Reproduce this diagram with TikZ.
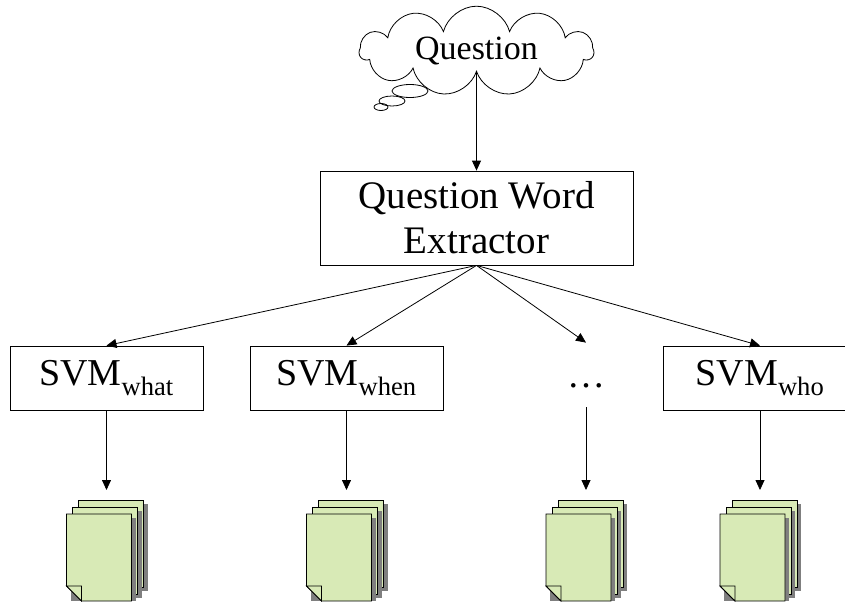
\documentclass[tikz,border=0pt]{standalone}
\usepackage{fontspec}
\setmainfont{Liberation Serif}
\usetikzlibrary{arrows.meta,shapes.symbols}

\definecolor{docgreen}{HTML}{D8EAB6}
\definecolor{docshadow}{HTML}{7F7F7F}

\tikzset{
	box/.style={draw, line width=0.8pt, inner sep=0pt, align=center},
	svmbox/.style={box, minimum width=193pt, minimum height=64pt, font=\fontsize{38}{42}\selectfont},
	link/.style={-{Triangle[length=10pt,width=9pt]}, line width=0.8pt},
	sheet/.style={draw, line width=0.8pt, fill=docgreen},
	shade/.style={fill=docshadow},
}

\begin{document}
\begin{tikzpicture}[x=1pt,y=-1pt]
		\useasboundingbox (0,0) rectangle (845,602);
		% thought bubbles
		\draw[line width=0.8pt] (410,91) ellipse (18pt and 6.5pt);
		\draw[line width=0.8pt] (392,101) ellipse (13pt and 5pt);
		\draw[line width=0.8pt] (381,107) ellipse (7pt and 3.5pt);
		\node[cloud, cloud puffs=11, draw, fill=white, line width=0.8pt, minimum width=234pt, minimum height=70pt, aspect=3.2, inner sep=0pt, font=\fontsize{34}{38}\selectfont] (question) at (476.5,51) {Question};
		\node[box, minimum width=313pt, minimum height=94pt, font=\fontsize{39}{45}\selectfont] (extractor) at (476.5,218) {Question Word\\Extractor};
		\node[svmbox] (what) at (106.5,378) {SVM\textsubscript{what}};
		\node[svmbox] (when) at (346.5,378) {SVM\textsubscript{when}};
		\node[svmbox, draw=none] (more) at (586,375) {\vphantom{S}\dots};
		\node[svmbox] (who) at (760,378) {SVM\textsubscript{who}};
		\coordinate (dwhat) at (106.5,490);
		\coordinate (dwhen) at (346.5,490);
		\coordinate (dmore) at (586,490);
		\coordinate (dwho) at (760,490);
		\draw[link] (question.south) -- (extractor.north);
		\foreach \n in {what,when,more,who} {
			\draw[link] (extractor.south) -- (\n.north);
			\draw[link] (\n.south) -- (d\n);
		}
		% document stacks
		\foreach \n in {what,when,more,who} {
			\begin{scope}[shift={(d\n)}]
				\fill[shade] (-24,14) rectangle (41,101);
				\draw[sheet] (-28,10) rectangle (37,97);
				\fill[shade] (-30,21) rectangle (35,108);
				\draw[sheet] (-34,17) rectangle (31,104);
				\fill[shade] (-36,28) rectangle (29,111);
				\draw[sheet] (-40,24) -- (25,24) -- (25,111) -- (-25,111) -- (-40,96) -- cycle;
				\draw[sheet] (-40,96) -- (-25,96) -- (-25,111) -- cycle;
			\end{scope}
		}
	\end{tikzpicture}
\end{document}
